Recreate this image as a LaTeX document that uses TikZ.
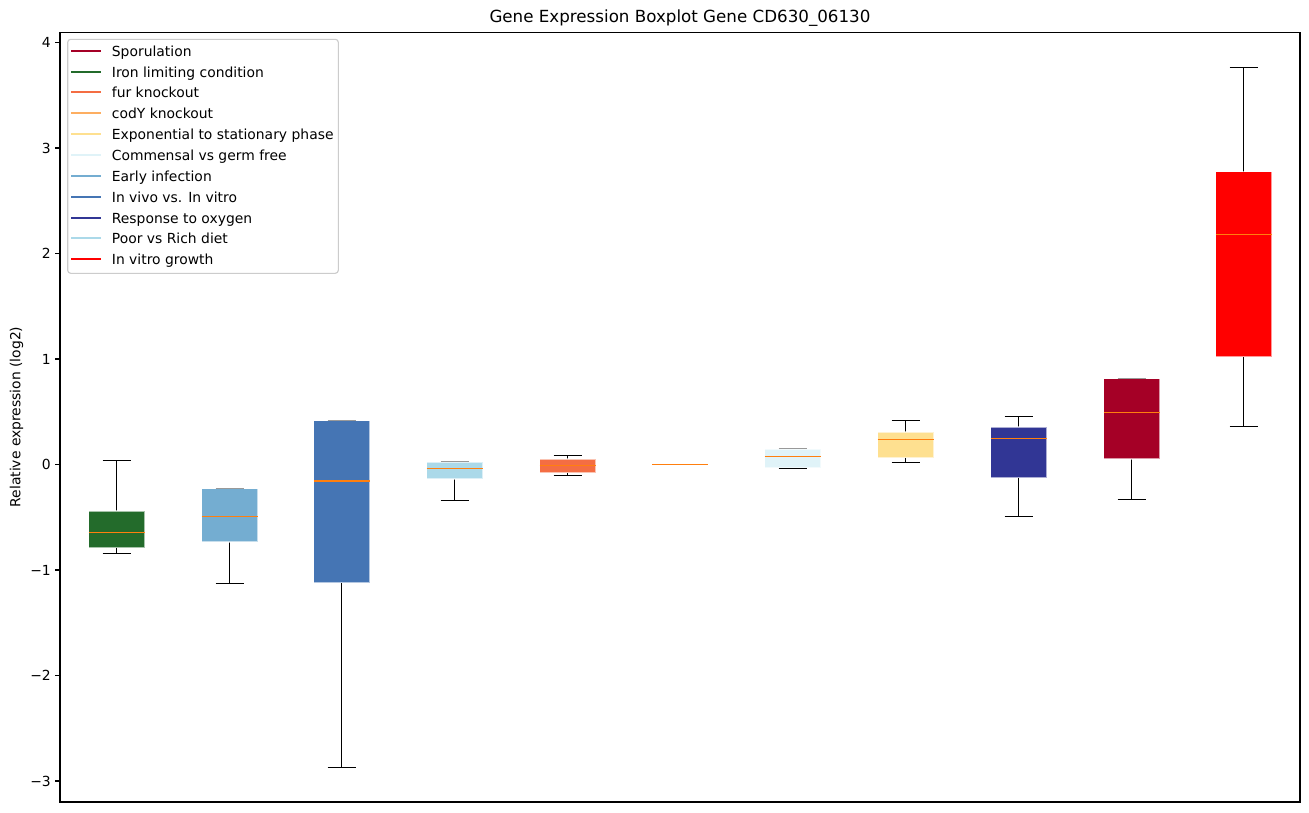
\documentclass[tikz,border=0pt]{standalone}
\usepackage{fontspec}
\setmainfont{DejaVu Sans}
\definecolor{cspor}{HTML}{A50026}
\definecolor{ciron}{HTML}{236B2B}
\definecolor{cfur}{HTML}{F46D43}
\definecolor{ccody}{HTML}{FDAE61}
\definecolor{cexpo}{HTML}{FEE090}
\definecolor{ccomm}{HTML}{E0F3F8}
\definecolor{cearly}{HTML}{74ADD1}
\definecolor{cvivo}{HTML}{4575B4}
\definecolor{coxy}{HTML}{313695}
\definecolor{cdiet}{HTML}{ABD9E9}
\definecolor{cvitro}{HTML}{FF0000}
\definecolor{cmed}{HTML}{FF7F0E}
\newcommand\bplot[7]{%
  \draw[whisk] (#1-14,#2) -- (#1+14,#2) (#1,#2) -- (#1,#3) (#1,#5) -- (#1,#6) (#1-14,#6) -- (#1+14,#6);
  \filldraw[boxs, fill=#7] (#1-28,#3) rectangle (#1+28,#5);
  \draw[med] (#1-28,#4) -- (#1+28,#4);
}
\begin{document}
\begin{tikzpicture}[x=1pt,y=-1pt,
  whisk/.style={black,line width=1.25pt},
  boxs/.style={draw=white,draw opacity=0.6,line width=1.1pt},
  med/.style={draw=cmed,line width=1.6pt},
  tick/.style={black,line width=1.1pt},
  ticklab/.style={anchor=east,inner sep=0pt,font=\fontsize{13.9}{16}\selectfont},
  legline/.style={line width=2pt},
  leglab/.style={anchor=base west,inner sep=0pt,font=\fontsize{13.9}{16}\selectfont}]
\useasboundingbox[fill=white] (0,0) rectangle (1309,812);
% boxes
\bplot{116.5}{460.5}{511}{532.5}{547.7}{553.5}{ciron}
\bplot{229.5}{488.5}{488.7}{516.5}{542}{583.5}{cearly}
\bplot{341.5}{420.5}{420.7}{481}{582.5}{767.5}{cvivo}
\bplot{454.5}{461.5}{462}{468.5}{479}{500.5}{cdiet}
\bplot{567.5}{455.5}{459}{465.5}{472.7}{475.5}{cfur}
\bplot{792.5}{448.5}{449}{456.5}{467.7}{468.5}{ccomm}
\bplot{905.5}{420.5}{432}{439.5}{457.7}{462.5}{cexpo}
\bplot{1018.5}{416.5}{427}{438.5}{477.7}{516.5}{coxy}
\bplot{1131.5}{378.5}{378.7}{412.5}{459}{499.5}{cspor}
\bplot{1243.5}{67.5}{171.7}{234.5}{356.7}{426.5}{cvitro}
% codY knockout: flat box at 0
\draw[line width=1.3pt,gray] (666,464.5) -- (694,464.5);
\draw[med] (652,464.5) -- (708,464.5);
% axes frame
\draw[line width=1.1pt] (60,32.5) rectangle (1300,802);
% y ticks
\foreach \v/\lab in {4/4,3/3,2/2,1/1,0/0,-1/−1,-2/−2,-3/−3}{
  \draw[tick] (60,464.5-105.5*\v) -- (55,464.5-105.5*\v);
  \node[ticklab] (t\v) at (51,464.5-105.5*\v) {\lab};
}
\node[rotate=90,inner sep=0pt,font=\fontsize{13.9}{16}\selectfont] (ylab) at (16.5,417) {Relative expression (log2)};
\node[anchor=base,inner sep=0pt,font=\fontsize{16.7}{20}\selectfont] (title) at (680,22) {Gene Expression Boxplot Gene CD630\_06130};
% legend
\draw[draw=black!20,fill=white,fill opacity=0.8,line width=1.1pt,rounded corners=3pt] (67.7,39.3) rectangle (338.3,273.3);
\foreach \i/\c/\lab in {0/cspor/Sporulation,1/ciron/Iron limiting condition,2/cfur/fur knockout,3/ccody/codY knockout,4/cexpo/Exponential to stationary phase,5/ccomm/Commensal vs germ free,6/cearly/Early infection,7/cvivo/In vivo vs. In vitro,8/coxy/Response to oxygen,9/cdiet/Poor vs Rich diet,10/cvitro/In vitro growth}{
  \draw[legline,draw=\c] (71,50.7+20.86*\i) -- (100.7,50.7+20.86*\i);
  \node[leglab] (l\i) at (111.7,56.2+20.86*\i) {\lab};
}
\end{tikzpicture}
\end{document}
